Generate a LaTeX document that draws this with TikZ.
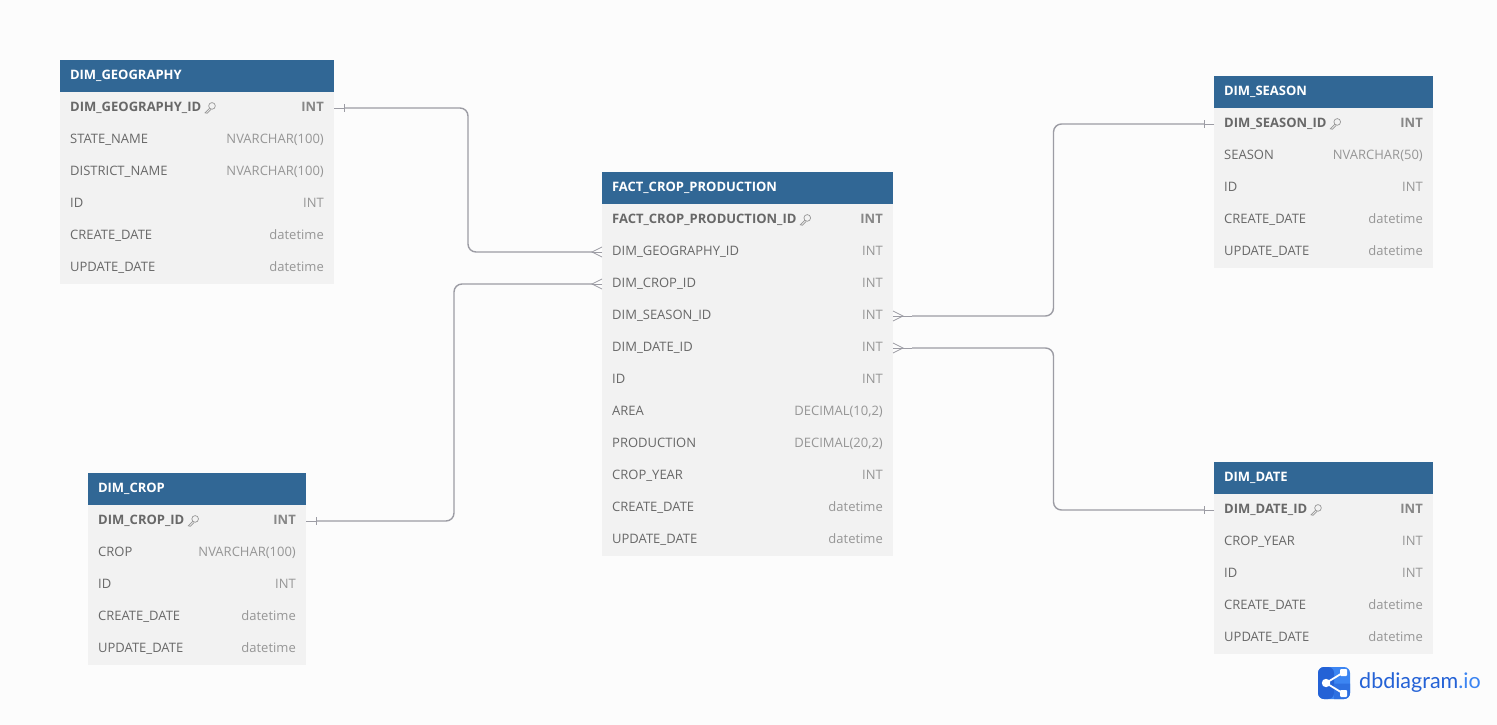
\documentclass[tikz,border=0pt]{standalone}
\usepackage{fontspec}
\setmainfont{Open Sans}
\newfontfamily\logofont{Lato}
\usetikzlibrary{positioning,calc}

\definecolor{headblue}{HTML}{316795}
\definecolor{rowgray}{HTML}{F2F2F2}
\definecolor{pagegray}{HTML}{FCFCFC}
\definecolor{relgray}{HTML}{9C9CA4}
\definecolor{namegray}{HTML}{686868}
\definecolor{typegray}{HTML}{969696}
\definecolor{logodark}{HTML}{2462D6}
\definecolor{logolight}{HTML}{3C85F2}

\begin{document}
\begin{tikzpicture}[
    x=1pt, y=-1pt,
    node font=\fontsize{13pt}{15pt}\selectfont,
    headbox/.style={anchor=north west, fill=headblue, text=white, font=\bfseries, minimum height=32pt, inner xsep=10pt, inner ysep=0pt, outer sep=0pt, align=left, text height=9.5pt, text depth=3pt},
    rowbox/.style={anchor=north west, fill=rowgray, minimum height=32pt, inner sep=0pt, outer sep=0pt},
    rowname/.style={anchor=west, text=namegray, inner sep=0pt, text height=9.5pt, text depth=3pt},
    rowtype/.style={anchor=east, text=typegray, inner sep=0pt, text height=9.5pt, text depth=3pt},
    idname/.style={rowname, font=\bfseries},
    idtype/.style={rowtype, font=\bfseries, text=typegray!90!black},
    relline/.style={draw=relgray, line width=1.4pt, rounded corners=8pt},
    relstub/.style={draw=relgray, line width=0.8pt},
    keyicon/.pic={
        \draw[typegray, line width=0.7pt, scale=1.15] (1.8,-1.8) circle (2.9);
        \draw[typegray, line width=0.7pt, scale=1.15] (-0.3,0.3) -- (-4.2,4.2) -- (-2.4,4.6) -- (0.9,1.2);
    },
]

\fill[pagegray] (0,0) rectangle (1497,725);

% === DIM_GEOGRAPHY ===
\node[headbox, text width=254pt] (geohead) at (60,60) {DIM\_GEOGRAPHY};
\node[rowbox, minimum width=274pt] (geo1) at (geohead.south west) {};
\node[idname, right=10pt of geo1.west] (geoid) {DIM\_GEOGRAPHY\_ID};
\node[idtype, left=10pt of geo1.east] (geotype) {INT};
\pic at ($(geoid.east)+(8.5,0)$) {keyicon};
\foreach \i/\n/\t in {2/STATE\_NAME/NVARCHAR(100), 3/DISTRICT\_NAME/NVARCHAR(100), 4/ID/INT, 5/CREATE\_DATE/datetime, 6/UPDATE\_DATE/datetime} {
    \node[rowbox, minimum width=274pt] (geo\i) at ($(geo1.north west)+(0,{32*(\i-1)})$) {};
    \node[rowname, right=10pt of geo\i.west] (geoname\i) {\n};
    \node[rowtype, left=10pt of geo\i.east] (geotype\i) {\t};
}

% === DIM_CROP ===
\node[headbox, text width=198pt] (crophead) at (88,473) {DIM\_CROP};
\node[rowbox, minimum width=218pt] (crop1) at (crophead.south west) {};
\node[idname, right=10pt of crop1.west] (cropid) {DIM\_CROP\_ID};
\node[idtype, left=10pt of crop1.east] (croptype) {INT};
\pic at ($(cropid.east)+(8.5,0)$) {keyicon};
\foreach \i/\n/\t in {2/CROP/NVARCHAR(100), 3/ID/INT, 4/CREATE\_DATE/datetime, 5/UPDATE\_DATE/datetime} {
    \node[rowbox, minimum width=218pt] (crop\i) at ($(crop1.north west)+(0,{32*(\i-1)})$) {};
    \node[rowname, right=10pt of crop\i.west] (cropname\i) {\n};
    \node[rowtype, left=10pt of crop\i.east] (croptype\i) {\t};
}

% === FACT_CROP_PRODUCTION ===
\node[headbox, text width=271pt] (facthead) at (602,172) {FACT\_CROP\_PRODUCTION};
\node[rowbox, minimum width=291pt] (fact1) at (facthead.south west) {};
\node[idname, right=10pt of fact1.west] (factid) {FACT\_CROP\_PRODUCTION\_ID};
\node[idtype, left=10pt of fact1.east] (facttype) {INT};
\pic at ($(factid.east)+(8.5,0)$) {keyicon};
\foreach \i/\n/\t in {2/DIM\_GEOGRAPHY\_ID/INT, 3/DIM\_CROP\_ID/INT, 4/DIM\_SEASON\_ID/INT, 5/DIM\_DATE\_ID/INT, 6/ID/INT, 7/AREA/{DECIMAL(10,2)}, 8/PRODUCTION/{DECIMAL(20,2)}, 9/CROP\_YEAR/INT, 10/CREATE\_DATE/datetime, 11/UPDATE\_DATE/datetime} {
    \node[rowbox, minimum width=291pt] (fact\i) at ($(fact1.north west)+(0,{32*(\i-1)})$) {};
    \node[rowname, right=10pt of fact\i.west] (factname\i) {\n};
    \node[rowtype, left=10pt of fact\i.east] (facttype\i) {\t};
}

% === DIM_SEASON ===
\node[headbox, text width=199pt] (seasonhead) at (1214,76) {DIM\_SEASON};
\node[rowbox, minimum width=219pt] (season1) at (seasonhead.south west) {};
\node[idname, right=10pt of season1.west] (seasonid) {DIM\_SEASON\_ID};
\node[idtype, left=10pt of season1.east] (seasontype) {INT};
\pic at ($(seasonid.east)+(8.5,0)$) {keyicon};
\foreach \i/\n/\t in {2/SEASON/NVARCHAR(50), 3/ID/INT, 4/CREATE\_DATE/datetime, 5/UPDATE\_DATE/datetime} {
    \node[rowbox, minimum width=219pt] (season\i) at ($(season1.north west)+(0,{32*(\i-1)})$) {};
    \node[rowname, right=10pt of season\i.west] (seasonname\i) {\n};
    \node[rowtype, left=10pt of season\i.east] (seasontype\i) {\t};
}

% === DIM_DATE ===
\node[headbox, text width=199pt] (datehead) at (1214,462) {DIM\_DATE};
\node[rowbox, minimum width=219pt] (date1) at (datehead.south west) {};
\node[idname, right=10pt of date1.west] (dateid) {DIM\_DATE\_ID};
\node[idtype, left=10pt of date1.east] (datetype) {INT};
\pic at ($(dateid.east)+(8.5,0)$) {keyicon};
\foreach \i/\n/\t in {2/CROP\_YEAR/INT, 3/ID/INT, 4/CREATE\_DATE/datetime, 5/UPDATE\_DATE/datetime} {
    \node[rowbox, minimum width=219pt] (date\i) at ($(date1.north west)+(0,{32*(\i-1)})$) {};
    \node[rowname, right=10pt of date\i.west] (datename\i) {\n};
    \node[rowtype, left=10pt of date\i.east] (datetype\i) {\t};
}

% === RELATIONS ===
\coordinate (geobend) at (468,180);
\coordinate (cropbend) at (454,400);
\coordinate (seasonbend) at (1053.5,220);
\coordinate (datebend) at (1053.5,430);
\draw[relline, shorten <=10pt, shorten >=10pt] (geo1.east) -| (geobend) |- (fact2.west);
\draw[relline, shorten <=10pt, shorten >=10pt] (crop1.east) -| (cropbend) |- (fact3.west);
\draw[relline, shorten <=19pt, shorten >=10pt] (fact4.east) -| (seasonbend) |- (season1.west);
\draw[relline, shorten <=19pt, shorten >=10pt] (fact5.east) -| (datebend) |- (date1.west);

% One side
\foreach \n/\s/\d in {geo1/east/1, crop1/east/1, season1/west/-1, date1/west/-1} {
    \draw[relstub] (\n.\s) -- ++(\d*10,0) coordinate (tick\n);
    \draw[relstub] ($(tick\n)+(0,-4)$) -- ($(tick\n)+(0,4)$);
}
% Many side
\foreach \n/\s/\d in {fact2/west/-1, fact3/west/-1, fact4/east/1, fact5/east/1} {
    \draw[relstub] (\n.\s) -- ++(\d*10,0) coordinate (crow\n);
    \draw[relstub] ($(\n.\s)+(0,-5)$) -- (crow\n) -- ($(\n.\s)+(0,5)$);
}
\foreach \n in {fact4, fact5} {
    \draw[relstub] (crow\n) -- ++(9,0);
}

% === LOGO ===
\node[fill=logolight, rounded corners=6pt, minimum size=32pt, inner sep=0pt] (logobox) at (1334,683) {};
\fill[logodark, rounded corners=6pt] (1318,667) -- (1334,667) -- (1334,699) -- (1318,699) -- cycle;
\fill[logodark!60!logolight] (1334,683.5) -- (1350,683.5) -- (1350,693) arc[start angle=0, end angle=90, radius=6] -- (1334,699) -- cycle;
\draw[white, line width=1.8pt] (1344,672) -- (1326,683) -- (1344,694);
\fill[white] (1326,683) circle (4.2);
\fill[white, rounded corners=1pt] (1340,669) rectangle (1347,676);
\fill[white, rounded corners=1pt] (1340,690) rectangle (1347,697);
\node[font=\logofont\fontsize{21.5pt}{24pt}\selectfont, anchor=west, inner sep=0pt, text=logodark] (logotext) at (1359,683) {dbdiagram\textcolor{logolight}{.io}};

\end{tikzpicture}
\end{document}
